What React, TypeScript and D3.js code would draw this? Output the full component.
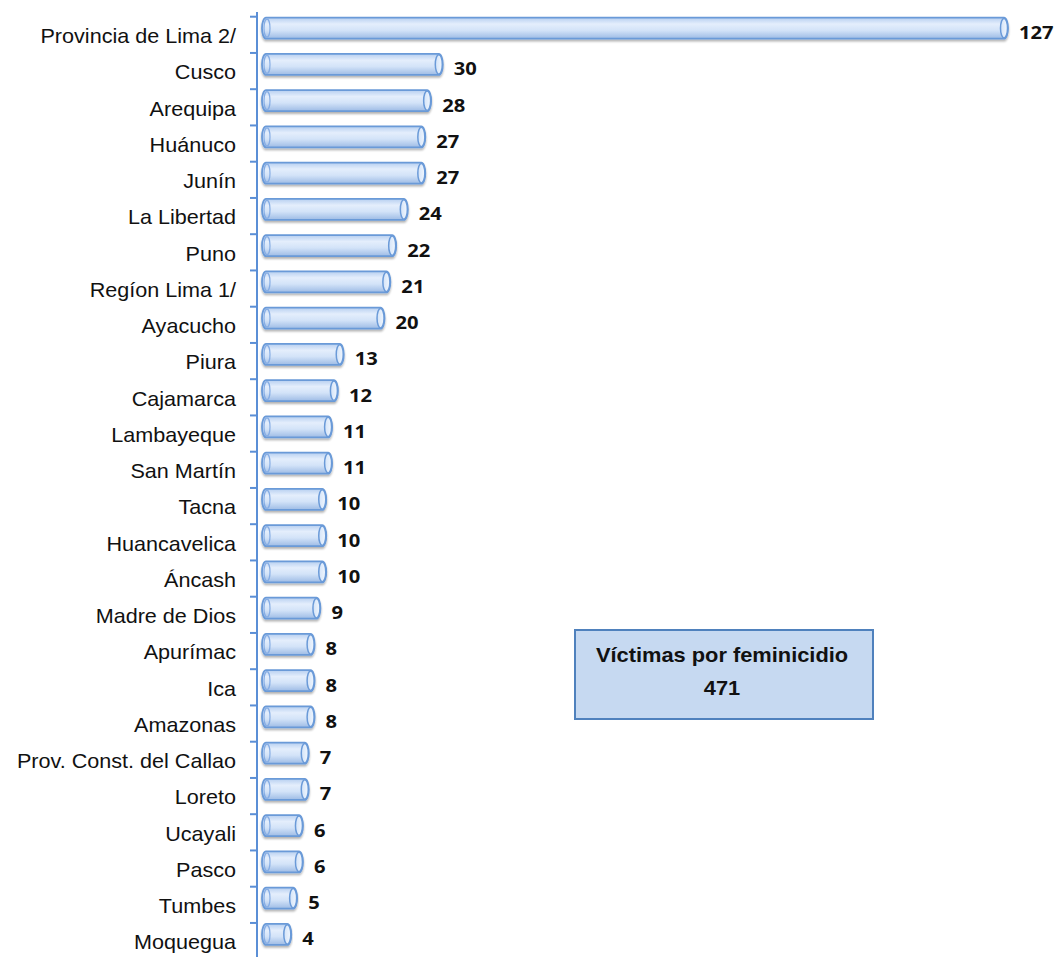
import React from "react";
import * as d3 from "d3";

const categories = [
  "Provincia de Lima 2/", "Cusco", "Arequipa", "Huánuco", "Junín", "La Libertad", "Puno",
  "Regíon Lima 1/", "Ayacucho", "Piura", "Cajamarca", "Lambayeque", "San Martín", "Tacna",
  "Huancavelica", "Áncash", "Madre de Dios", "Apurímac", "Ica", "Amazonas",
  "Prov. Const. del Callao", "Loreto", "Ucayali", "Pasco", "Tumbes", "Moquegua",
];
const values = [127, 30, 28, 27, 27, 24, 22, 21, 20, 13, 12, 11, 11, 10, 10, 10, 9, 8, 8, 8, 7, 7, 6, 6, 5, 4];
const boxTitle = "Víctimas por feminicidio";
const boxTotal = "471";

const W = 1054;
const H = 957;

export default function App() {
  const y = d3.scaleBand<string>().domain(categories).range([16.7, 16.7 + 26 * 36.25]).padding(0);
  const x = d3.scaleLinear().domain([0, 127]).range([268, 1008]);
  const axisX = 257;
  const bh = 21;
  const r = 4;
  const x0 = x(0) - 6;
  const ticks = categories.map((c) => y(c) as number);

  return (
    <svg width={W} height={H} style={{ position: "absolute", left: 0, top: 0, background: "#fff" }}>
      <defs>
        <linearGradient id="cyl" x1="0" y1="0" x2="0" y2="1">
          <stop offset="0%" stopColor="#b7cff0" />
          <stop offset="30%" stopColor="#e4eefc" />
          <stop offset="60%" stopColor="#d3e3f8" />
          <stop offset="100%" stopColor="#9dbbe5" />
        </linearGradient>
        <linearGradient id="cap" x1="0" y1="0" x2="1" y2="0">
          <stop offset="0%" stopColor="#d3e3f8" />
          <stop offset="100%" stopColor="#f1f7fe" />
        </linearGradient>
        <filter id="sh" x="-5%" y="-30%" width="110%" height="170%">
          <feGaussianBlur in="SourceAlpha" stdDeviation="1.2" />
          <feOffset dx="0" dy="1.5" result="b" />
          <feComponentTransfer><feFuncA type="linear" slope="0.3" /></feComponentTransfer>
          <feMerge><feMergeNode /><feMergeNode in="SourceGraphic" /></feMerge>
        </filter>
      </defs>

      <line x1={axisX} x2={axisX} y1={12} y2={H} stroke="#5b8fd6" strokeWidth={2} />
      {ticks.map((t, i) => (
        <line key={i} x1={axisX - 7} x2={axisX} y1={t} y2={t} stroke="#5b8fd6" strokeWidth={2} />
      ))}

      {categories.map((c, i) => {
        const yt = y(c) as number;
        const by = yt + 1;
        const x1 = x(values[i]);
        const d = `M${x0 + r},${by} L${x1 - r},${by} A${r},${bh / 2} 0 0 1 ${x1 - r},${by + bh} L${x0 + r},${by + bh} A${r},${bh / 2} 0 0 1 ${x0 + r},${by} Z`;
        return (
          <g key={c}>
            <path d={d} fill="url(#cyl)" stroke="#6a9ad8" strokeWidth={1.8} filter="url(#sh)" />
            <ellipse cx={x0 + r + 1} cy={by + bh / 2} rx={r - 1} ry={bh / 2 - 1.5} fill="none" stroke="#86ade4" strokeWidth={1.2} />
            <ellipse cx={x1 - r} cy={by + bh / 2} rx={r - 0.5} ry={bh / 2 - 0.8} fill="url(#cap)" stroke="#6a9ad8" strokeWidth={1.5} />
            <text
              transform={`translate(236,${yt + 26.5}) scale(1.08,1)`}
              textAnchor="end"
              fontFamily="'Liberation Sans', Arial, sans-serif"
              fontSize={20}
              fill="#111"
            >
              {c}
            </text>
            <text
              transform={`translate(${x1 + 11},${yt + 22.5}) scale(1.12,1)`}
              fontFamily="'Open Sans', sans-serif"
              fontWeight="bold"
              fontSize={18}
              fill="#111"
            >
              {values[i]}
            </text>
          </g>
        );
      })}

      <rect x={575} y={630} width={298} height={89} fill="#c6d9f1" stroke="#4f81bd" strokeWidth={2} />
      <text
        transform="translate(722,662) scale(1.04,1)"
        textAnchor="middle"
        fontFamily="'Liberation Sans', Arial, sans-serif"
        fontWeight="bold"
        fontSize={21}
        fill="#111"
      >
        {boxTitle}
      </text>
      <text
        transform="translate(722,695) scale(1.04,1)"
        textAnchor="middle"
        fontFamily="'Liberation Sans', Arial, sans-serif"
        fontWeight="bold"
        fontSize={21}
        fill="#111"
      >
        {boxTotal}
      </text>
    </svg>
  );
}
